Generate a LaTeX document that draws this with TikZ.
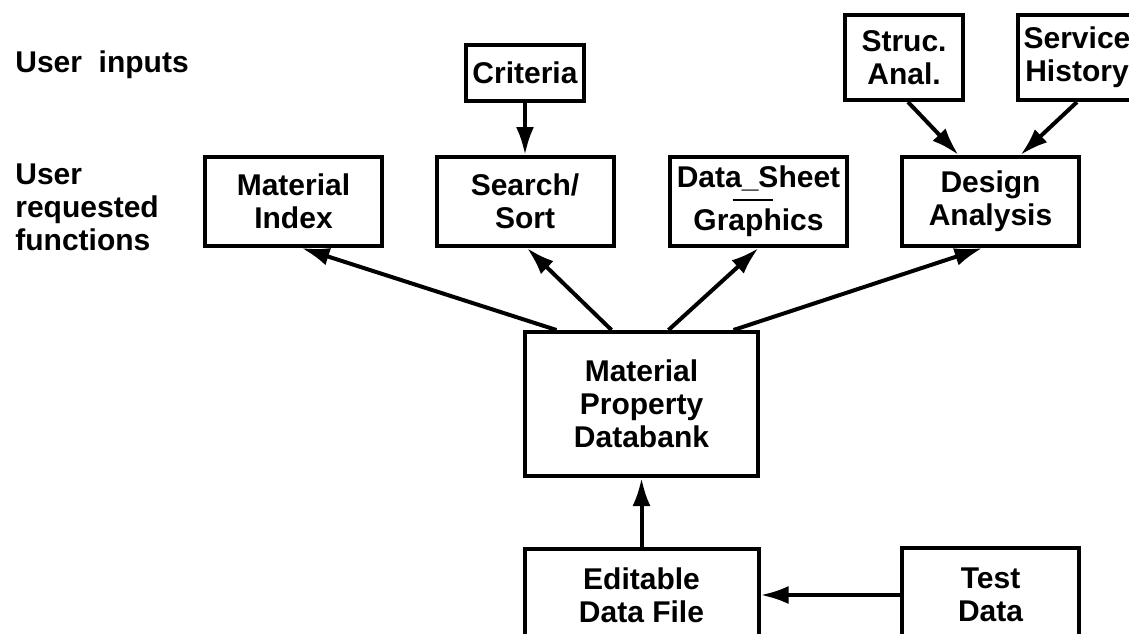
\documentclass[tikz,border=0pt]{standalone}
\usepackage{fontspec}
\setmainfont{Liberation Sans}
\usetikzlibrary{arrows.meta,calc}

\begin{document}
\begin{tikzpicture}[x=0.5pt,y=-0.5pt,
  blk/.style={draw,line width=2pt,align=center,inner sep=0pt,
              font=\bfseries\fontsize{15}{16.5}\selectfont},
  fnbox/.style={blk,minimum width=88.5pt,minimum height=44.5pt},
  inbox/.style={blk,minimum width=59pt,minimum height=42.5pt},
  lbl/.style={inner sep=0pt,align=left,font=\bfseries\fontsize{15}{16.5}\selectfont},
  flow/.style={line width=2pt,-{Latex[length=14pt,width=9pt]}}]

\useasboundingbox (0,0) rectangle (1129,633);
\clip (0,0) rectangle (1129,633);

%% row labels
\node[lbl,anchor=base west] (usrin) at (15,72) {User\ \ inputs};
\node[lbl,anchor=north west] (usrfn) at (15,163) {User\\requested\\functions};

%% user inputs
\node[blk,minimum width=59pt,minimum height=28pt] (crit) at (525,73) {Criteria};
\node[inbox] (struc) at (904,57.5) {Struc.\\Anal.};
\node[inbox] (serv) at (1077,57.5) {Service\\History};

%% requested functions
\node[fnbox] (idx) at (293.5,201.5) {Material\\Index};
\node[fnbox] (srch) at (525,201.5) {Search/\\Sort};
\node[fnbox] (sheet) at (758.5,201.5) {Data\_Sheet\\[5pt]Graphics};
\node[fnbox] (dsgn) at (990.5,201.5) {Design\\Analysis};
\draw[line width=1pt] ($(sheet.center)+(-26,-2)$) -- ($(sheet.center)+(14,-2)$);

%% databank and its feed
\node[blk,minimum width=116.5pt,minimum height=72pt] (mpd) at (641.5,404) {Material\\Property\\Databank};
\node[blk,minimum width=117pt,minimum height=46pt] (edit) at (641.5,595) {Editable\\Data File};
\node[blk,minimum width=88.5pt,minimum height=47pt] (test) at (990.5,595) {Test\\Data};

\draw[flow] (crit) -- (srch);
\draw[flow] ($(struc.south)+(4,0)$) -- ($(dsgn.north)+(-32,0)$);
\draw[flow] (serv.south) -- ($(dsgn.north)+(30,0)$);

\draw[flow] ($(mpd.north)+(-85,0)$) -- ($(idx.south)+(8,0)$);
\draw[flow] ($(mpd.north)+(-30,0)$) -- ($(srch.south)+(2,0)$);
\draw[flow] ($(mpd.north)+(27,0)$) -- (sheet.south);
\draw[flow] ($(mpd.north)+(92,0)$) -- ($(dsgn.south)+(-8,0)$);

\draw[flow] (edit) -- (mpd);
\draw[flow] (test) -- (edit);
\end{tikzpicture}
\end{document}
